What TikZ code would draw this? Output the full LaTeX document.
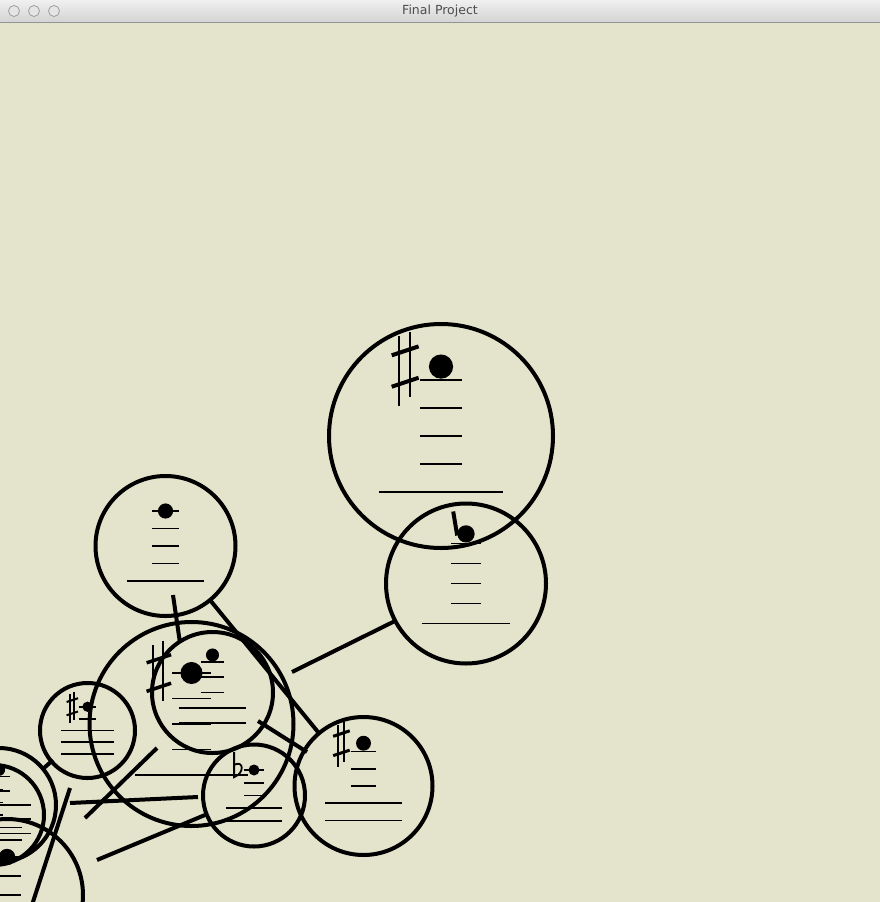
\documentclass[tikz,border=0pt]{standalone}
\usepackage{fontspec}
\newfontfamily\titlefont{DejaVu Sans}
\definecolor{bg}{RGB}{228,227,203}
\definecolor{ttxt}{RGB}{77,77,77}
\tikzset{
  ring/.style={line width=4pt},
  staff/.style={line width=1.8pt},
  conn/.style={line width=4pt},
  sharpv/.style={line width=1.8pt},
}
\newcommand{\bub}[6]{%
  \begin{scope}[shift={(#1,#2)},scale=#3]
    \draw[ring] (0,0) circle (1);
    \foreach \k in {1,...,5}{%
      \pgfmathsetmacro{\yy}{-0.75+0.25*\k}%
      \ifnum\k>#4\relax\def\hw{0.555}\else\def\hw{0.1875}\fi
      \draw[staff] (-\hw,\yy) -- (\hw,\yy);
    }
    \fill (0,#5) circle (0.108);
    #6
  \end{scope}}
\newcommand{\sharpacc}[2]{%
  \draw[sharpv] (-0.375,#1-0.27) -- (-0.375,#1+0.35);
  \draw[sharpv] (-0.28,#1-0.31) -- (-0.28,#1+0.27);
  \draw[line width=#2] (-0.44,#1-0.10) -- (-0.2,#1-0.18);
  \draw[line width=#2] (-0.44,#1+0.18) -- (-0.2,#1+0.10);
}
\newcommand{\flatacc}[1]{%
  \draw[sharpv] (-0.39,#1-0.35) -- (-0.39,#1+0.14)
    .. controls (-0.18,#1+0.06) and (-0.2,#1-0.2) .. (-0.39,#1-0.1);
}
\begin{document}
\begin{tikzpicture}[x=1pt,y=-1pt]
\useasboundingbox (0,0) rectangle (880,902);
\fill[bg] (0,0) rectangle (880,902);
\begin{scope}
  \clip (0,22) rectangle (880,902);
  % bubbles
  \bub{441}{436}{112}{4}{-0.62}{\sharpacc{-0.62}{4pt}}
  \bub{466}{583.5}{80}{4}{-0.62}{\draw[line width=4pt] (-0.16,-0.9) -- (-0.11,-0.6);}
  \bub{165.5}{546}{70}{4}{-0.5}{}
  \bub{191.5}{724}{102}{4}{-0.5}{\sharpacc{-0.5}{3.5pt}}
  \bub{212.5}{692.5}{60.5}{3}{-0.62}{}
  \bub{87.5}{730.5}{47.5}{2}{-0.5}{\sharpacc{-0.5}{2pt}}
  \bub{254}{795.5}{51}{3}{-0.5}{\flatacc{-0.5}}
  \bub{363.5}{786}{69}{3}{-0.62}{\sharpacc{-0.62}{3pt}}
  \bub{-1}{805}{57}{2}{-0.62}{}
  \bub{-6}{815}{50}{3}{-0.5}{}
  \bub{7}{895}{76}{4}{-0.5}{}
  % connectors
  \coordinate (c1a) at (173,595); \coordinate (c1b) at (180,643);
  \coordinate (c2a) at (210,600); \coordinate (c2b) at (318,732);
  \coordinate (c3a) at (292,672); \coordinate (c3b) at (395,621);
  \coordinate (c4a) at (258,721); \coordinate (c4b) at (307,752);
  \coordinate (c5a) at (70,803);  \coordinate (c5b) at (198,797);
  \coordinate (c6a) at (85,818);  \coordinate (c6b) at (157,748);
  \coordinate (c7a) at (97,860);  \coordinate (c7b) at (205,815);
  \coordinate (c8a) at (70,788);  \coordinate (c8b) at (31,908);
  \coordinate (c9a) at (44,768);  \coordinate (c9b) at (53,760);
  \foreach \i in {1,...,9}{\draw[conn] (c\i a) -- (c\i b);}
\end{scope}
% title bar
\shade[top color=black!6, bottom color=black!17] (0,0) rectangle (880,22);
\draw[black!42, line width=1pt] (0,22) -- (880,22);
\foreach \bx in {14,34,54}{
  \draw[black!38, line width=0.8pt, fill=black!10] (\bx,11) circle (5.5);
}
\node[font=\titlefont\fontsize{12.5}{14}\selectfont, text=ttxt] (title) at (440,11.5) {Final Project};
\end{tikzpicture}
\end{document}
